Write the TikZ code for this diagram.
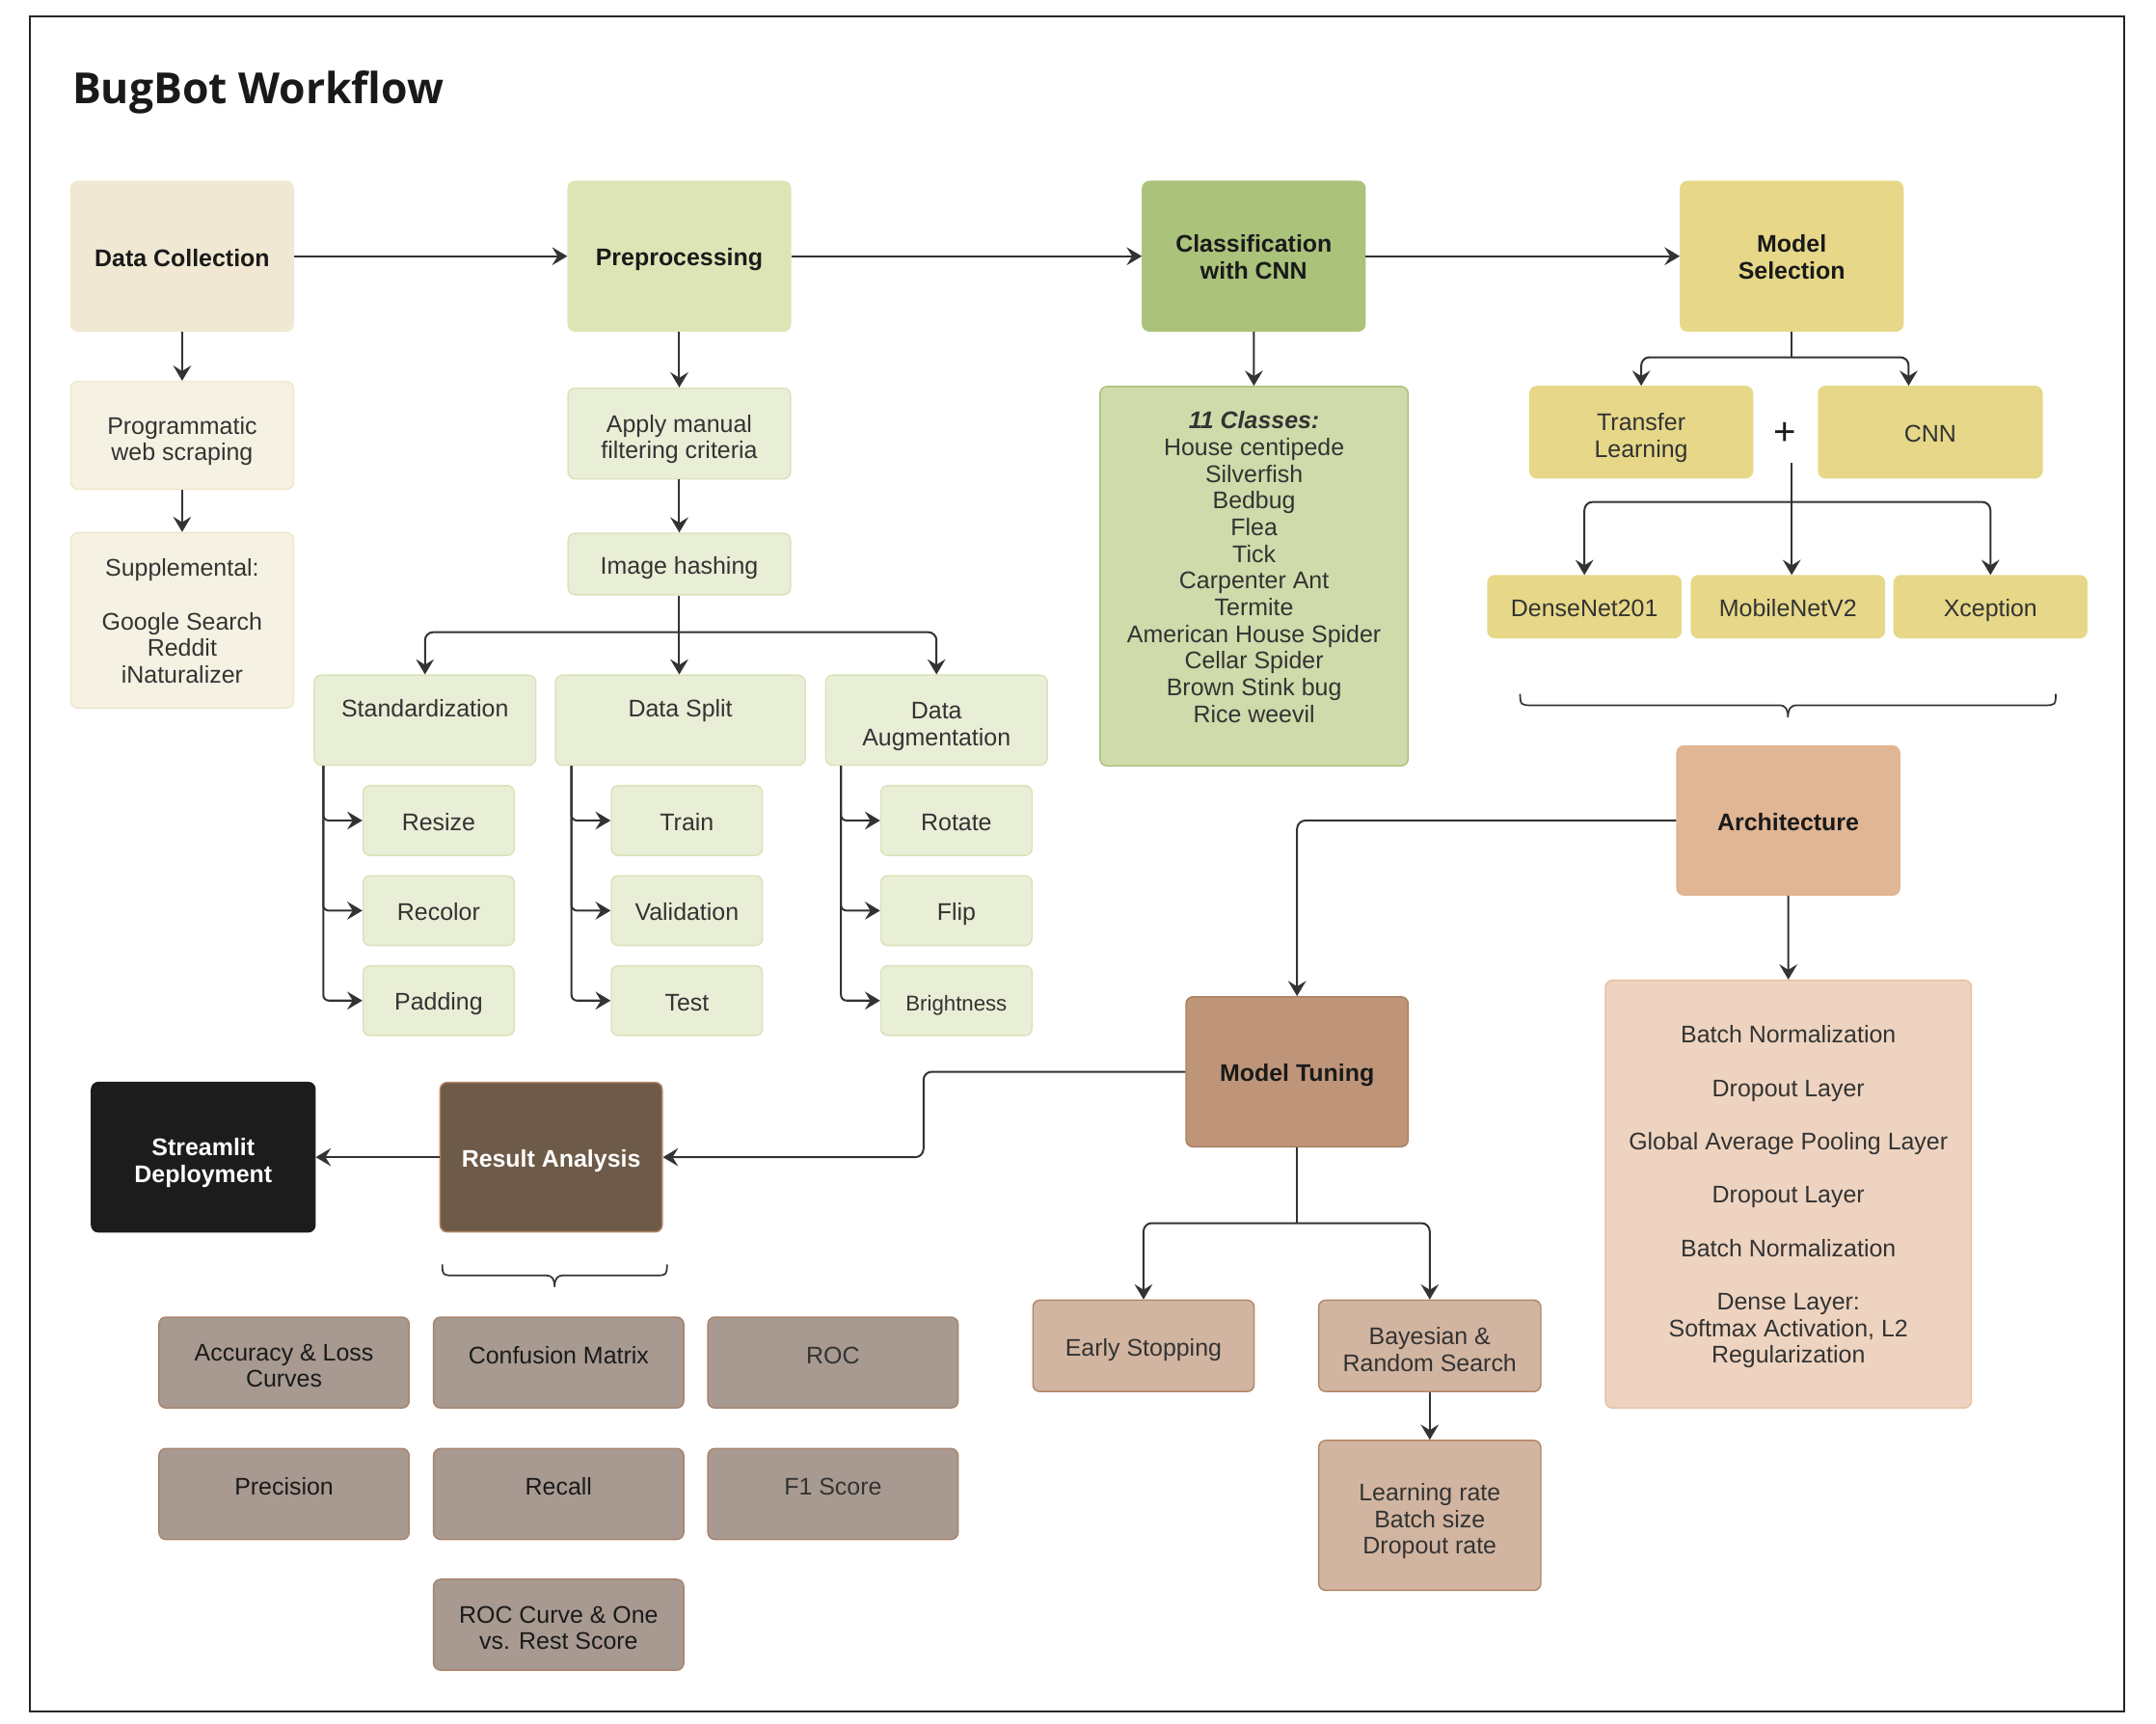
\documentclass[tikz,border=0pt]{standalone}
\usepackage{fontspec}
\setmainfont{Liberation Sans}
\newfontfamily\titlefont{Open Sans}
\usetikzlibrary{arrows.meta}
\definecolor{ln}{HTML}{333333}
\definecolor{txt}{HTML}{333333}
\definecolor{txtB}{HTML}{1A1A1A}
\definecolor{dcF}{HTML}{F0E8D2}
\definecolor{dcLF}{HTML}{F6F2E3}
\definecolor{dcLD}{HTML}{EEE6CE}
\definecolor{preF}{HTML}{DDE5B7}
\definecolor{preLF}{HTML}{E9EED6}
\definecolor{preLD}{HTML}{D9E3B9}
\definecolor{clsF}{HTML}{ABC27B}
\definecolor{clsLF}{HTML}{D0DBAB}
\definecolor{clsLD}{HTML}{A9C17A}
\definecolor{msF}{HTML}{E6D888}
\definecolor{arF}{HTML}{E1B694}
\definecolor{arLF}{HTML}{EED4C0}
\definecolor{arLD}{HTML}{E6BFA0}
\definecolor{mtF}{HTML}{BF9579}
\definecolor{mtD}{HTML}{A8805F}
\definecolor{mtLF}{HTML}{D2B5A1}
\definecolor{mtLD}{HTML}{B28769}
\definecolor{raF}{HTML}{6E5A48}
\definecolor{sdF}{HTML}{1C1C1C}
\definecolor{mxF}{HTML}{A89A91}
\definecolor{mxD}{HTML}{A8836B}
\newcommand\firststrut{\rule[-3.4pt]{0pt}{21.3pt}}
\newcommand\laststrut{\rule[-3.4pt]{0pt}{19.3pt}}
\newcommand\mst{\rule[-3.4pt]{0pt}{24.3pt}}
\newcommand\msa{\rule[-3.4pt]{0pt}{20.3pt}}
\newcommand\mstb{\rule[-3.4pt]{0pt}{23.3pt}}
\tikzset{
  box/.style={rounded corners=5pt, inner sep=2pt, align=center, text=txt,
    font=\fontsize{17.4}{19.3}\selectfont, line width=1pt,
    execute at begin node=\firststrut, execute at end node=\laststrut},
  bbox/.style={box, text=txtB, font=\bfseries\fontsize{17.4}{19.3}\selectfont},
  big/.style={minimum width=161pt, minimum height=108.2pt},
  arr/.style={draw=ln, line width=1.4pt, -{Stealth[length=11pt,width=13pt,inset=4pt]}},
  conn/.style={draw=ln, line width=1.4pt},
  sub/.style={box, fill=preLF, draw=preLD, minimum width=109.4pt, minimum height=50.5pt},
  metric/.style={box, fill=mxF, draw=mxD, text=txtB, minimum width=181pt, minimum height=65.7pt},
}
\begin{document}
\begin{tikzpicture}[x=1pt,y=-1pt]
\useasboundingbox (0,0) rectangle (1560,1247.4);
\draw[line width=1.6pt, draw=black!85] (21.4,11.9) rectangle (1537.2,1238.3);
\node[anchor=base west, inner sep=0, font=\titlefont\bfseries\fontsize{31}{36}\selectfont, text=black!90] (title) at (52.2,74.8) {BugBot Workflow};

% row 1
\node[bbox, big, fill=dcF, draw=dcF] (dc) at (131.8,185.4) {Data Collection};
\node[bbox, big, fill=preF, draw=preF] (pre) at (491.5,185.4) {Preprocessing};
\node[bbox, big, fill=clsF, draw=clsF] (cls) at (907.2,185.4) {\msa Classification\\with CNN};
\node[bbox, big, fill=msF, draw=msF] (ms) at (1296.4,185.4) {\msa Model\\Selection};

% column 1
\node[box, fill=dcLF, draw=dcLD, minimum width=161pt, minimum height=78pt] (prog) at (131.8,315) {\mst Programmatic\\web scraping};
\node[box, fill=dcLF, draw=dcLD, minimum width=161pt, minimum height=127pt] (supp) at (131.8,448.9) {\msa Supplemental:\\[19.3pt]Google Search\\Reddit\\iNaturalizer};

% column 2
\node[box, fill=preLF, draw=preLD, minimum width=161pt, minimum height=65.7pt] (apply) at (491.5,313.7) {\mst Apply manual\\filtering criteria};
\node[box, fill=preLF, draw=preLD, minimum width=161pt, minimum height=44.6pt] (hash) at (491.5,408.1) {Image hashing};
\node[box, fill=preLF, draw=preLD, minimum width=160.2pt, minimum height=65.2pt] (std) at (307.5,521.1) {Standardization\\[-6pt]\mbox{}};
\node[box, fill=preLF, draw=preLD, minimum width=180.6pt, minimum height=65.2pt] (split) at (492.3,521.1) {Data Split\\[-6pt]\mbox{}};
\node[box, fill=preLF, draw=preLD, minimum width=160.2pt, minimum height=65.2pt] (aug) at (677.6,521.1) {\mst Data\\Augmentation};
\node[sub] (resize) at (317.4,593.7) {Resize};
\node[sub] (recolor) at (317.4,658.9) {Recolor};
\node[sub] (padding) at (317.4,724) {Padding};
\node[sub] (train) at (497,593.7) {Train};
\node[sub] (valid) at (497,658.9) {Validation};
\node[sub] (test) at (497,724) {Test};
\node[sub] (rotate) at (692,593.7) {Rotate};
\node[sub] (flip) at (692,658.9) {Flip};
\node[sub, font=\fontsize{15.5}{18}\selectfont] (bright) at (692,724) {Brightness};

% column 3
\node[box, fill=clsLF, draw=clsLD, minimum width=222.8pt, minimum height=274.5pt] (classes) at (907.4,416.9)
  {\msa\textbf{\textit{11 Classes:}}\\House centipede\\Silverfish\\Bedbug\\Flea\\Tick\\Carpenter Ant\\Termite\\American House Spider\\Cellar Spider\\Brown Stink bug\\Rice weevil\\[-5pt]\mbox{}};

% column 4
\node[box, fill=msF, draw=msF, minimum width=161.1pt, minimum height=66.1pt] (tl) at (1187.5,312.7) {\mst Transfer\\Learning};
\node[box, fill=msF, draw=msF, minimum width=161.7pt, minimum height=66.1pt] (cnn) at (1396.7,312.7) {CNN};
\node[inner sep=0, text=txtB, font=\fontsize{28}{30}\selectfont] (plus) at (1291.4,314) {+};
\node[box, fill=msF, draw=msF, minimum width=139.8pt, minimum height=44.9pt] (dn) at (1146.4,439) {DenseNet201};
\node[box, fill=msF, draw=msF, minimum width=139.8pt, minimum height=44.9pt] (mob) at (1293.7,439) {MobileNetV2};
\node[box, fill=msF, draw=msF, minimum width=139.4pt, minimum height=44.9pt] (xc) at (1440.2,439) {Xception};
\node[bbox, fill=arF, draw=arF, minimum width=161.2pt, minimum height=107.8pt] (arch) at (1293.9,593.7) {Architecture};
\node[box, fill=arLF, draw=arLD, minimum width=264.7pt, minimum height=309.5pt] (layers) at (1294,864)
  {\msa Batch Normalization\\[19.3pt]Dropout Layer\\[19.3pt]Global Average Pooling Layer\\[19.3pt]Dropout Layer\\[19.3pt]Batch Normalization\\[19.3pt]Dense Layer:\\Softmax Activation, L2\\Regularization};

% tuning
\node[bbox, fill=mtF, draw=mtD, minimum width=160.7pt, minimum height=108.5pt] (mt) at (938.5,775.5) {Model Tuning};
\node[box, fill=mtLF, draw=mtLD, minimum width=160.1pt, minimum height=66.1pt] (es) at (827.4,973.8) {Early Stopping};
\node[box, fill=mtLF, draw=mtLD, minimum width=160.7pt, minimum height=66.1pt] (bay) at (1034.5,973.8) {\mst Bayesian \&\\Random Search};
\node[box, fill=mtLF, draw=mtLD, minimum width=160.7pt, minimum height=108.5pt] (lr) at (1034.5,1096.5) {\mst Learning rate\\Batch size\\Dropout rate};

% results
\node[bbox, text=white, fill=raF, draw=mtLD, minimum width=160.7pt, minimum height=108.2pt] (ra) at (398.8,837.3) {Result Analysis};
\node[bbox, text=white, fill=sdF, draw=sdF, minimum width=161.7pt, minimum height=108.2pt] (sd) at (147.1,837.3) {\mst Streamlit\\Deployment};
\node[metric] (acc) at (205.5,985.9) {\mstb Accuracy \& Loss\\Curves};
\node[metric] (conf) at (404.2,985.9) {Confusion Matrix\\[-12pt]\mbox{}};
\node[metric, text=txt] (roc) at (602.7,985.9) {ROC\\[-12pt]\mbox{}};
\node[metric] (prec) at (205.5,1081) {Precision\\[-12pt]\mbox{}};
\node[metric] (rec) at (404.2,1081) {Recall\\[-12pt]\mbox{}};
\node[metric, text=txt] (f1) at (602.7,1081) {F1 Score\\[-12pt]\mbox{}};
\node[metric] (rocc) at (404.2,1175.6) {\mstb ROC Curve \& One\\vs. Rest Score};

% coordinates
\coordinate (hb) at (491.5,457.4);
\coordinate (mb) at (1296.4,258.5);
\coordinate (pb) at (1296.4,335);
\coordinate (pj) at (1296.4,363.2);
\coordinate (mc) at (668.2,800);
\coordinate (mj) at (938.5,885);

% connectors
\draw[arr] (dc) -- (pre);
\draw[arr] (pre) -- (cls);
\draw[arr] (cls) -- (ms);
\draw[arr] (dc) -- (prog);
\draw[arr] (prog) -- (supp);
\draw[arr] (pre) -- (apply);
\draw[arr] (apply) -- (hash);
\draw[conn] (hash.south) -- (hb);
\draw[arr, rounded corners=6pt] (hb) -| (std.north);
\draw[arr, rounded corners=6pt] (hb) -| (aug.north);
\draw[arr] (hb) -- (hb |- split.north);
\foreach \c in {resize,recolor,padding}
  \draw[arr, rounded corners=4pt] ([xshift=7pt]std.south west) |- (\c.west);
\foreach \c in {train,valid,test}
  \draw[arr, rounded corners=4pt] ([xshift=12pt]split.south west) |- (\c.west);
\foreach \c in {rotate,flip,bright}
  \draw[arr, rounded corners=4pt] ([xshift=11.5pt]aug.south west) |- (\c.west);
\draw[arr] (cls) -- (classes);
\draw[conn] (ms.south) -- (mb);
\draw[arr, rounded corners=6pt] (mb) -| (tl.north);
\draw[arr, rounded corners=6pt] (mb) -| ([xshift=-15.7pt]cnn.north);
\draw[conn] (pb) -- (pj);
\draw[arr, rounded corners=6pt] (pj) -| (dn.north);
\draw[arr, rounded corners=6pt] (pj) -| (xc.north);
\draw[arr] (pj) -- (pj |- mob.north);
\draw[arr, rounded corners=6pt] (arch.west) -| (mt.north);
\draw[arr] (arch) -- (layers);
\draw[arr, rounded corners=6pt] (mt.west) -| (mc) |- (ra.east);
\draw[arr] (ra) -- (sd);
\draw[conn] (mt.south) -- (mj);
\draw[arr, rounded corners=6pt] (mj) -| (es.north);
\draw[arr, rounded corners=6pt] (mj) -| (bay.north);
\draw[arr] (bay) -- (lr);

% braces
\draw[conn, line width=1.2pt] (1099.9,502) .. controls (1099.9,510.3) and (1101,510.3) .. (1108,510.3)
  -- (1287,510.3) .. controls (1292,510.3) and (1293.7,513) .. (1293.7,519)
  .. controls (1293.7,513) and (1295.4,510.3) .. (1300.4,510.3)
  -- (1479.5,510.3) .. controls (1486.5,510.3) and (1487.5,510.3) .. (1487.5,502);
\draw[conn, line width=1.2pt] (320,914.9) .. controls (320,922.8) and (321,922.8) .. (327,922.8)
  -- (395,922.8) .. controls (399.5,922.8) and (401.3,925.5) .. (401.3,931.2)
  .. controls (401.3,925.5) and (403.1,922.8) .. (407.6,922.8)
  -- (475.6,922.8) .. controls (481.6,922.8) and (482.6,922.8) .. (482.6,914.9);
\end{tikzpicture}
\end{document}
